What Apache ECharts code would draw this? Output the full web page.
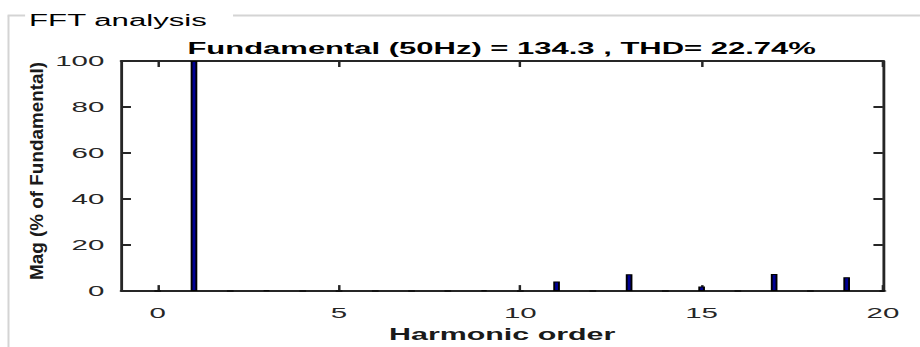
<!DOCTYPE html>
<html>
<head>
<meta charset="utf-8">
<script src="https://cdn.jsdelivr.net/npm/echarts@6/dist/echarts.min.js"></script>
<style>
html,body{margin:0;padding:0;background:#fff;overflow:hidden;}
#wrap{position:absolute;left:0;top:0;width:920px;height:347px;overflow:hidden;}
#chart{position:absolute;left:0;top:0;width:484px;height:347px;transform:scaleX(1.9008);transform-origin:0 0;}
</style>
</head>
<body>
<div id="wrap"><div id="chart"></div></div>
<script>
// ---- data ----
const harmonicOrder = [0,1,2,3,4,5,6,7,8,9,10,11,12,13,14,15,16,17,18,19,20];
const magPercent    = [0,100,0,0.2,0,0,0,0,0,0.3,0,4.2,0,7.3,0,2.0,0,7.4,0,6.0,0];
const xTickValues = [0,5,10,15,20];
const panelTitle = 'FFT analysis';
const chartTitle = 'Fundamental (50Hz) = 134.3 , THD= 22.74%';
const xName = 'Harmonic order';
const yName = 'Mag (% of Fundamental)';

const FONT = 'Liberation Sans, Arial, Helvetica, sans-serif';
const AX = '#262626';

const chart = echarts.init(document.getElementById('chart'), null, {renderer: 'svg'});

const xCommon = {
  type: 'value', min: -1, max: 20, interval: 1,
  splitLine: {show: false},
  axisLine: {show: true, onZero: false, lineStyle: {color: AX, width: 2}},
  axisTick: {show: true, inside: true, length: 6, customValues: xTickValues, lineStyle: {color: AX, width: 1.3}}
};
const yCommon = {
  type: 'value', min: 0, max: 100, interval: 20,
  splitLine: {show: false},
  axisLine: {show: true, onZero: false, lineStyle: {color: AX, width: 1.5}},
  axisTick: {show: true, inside: true, length: 5, lineStyle: {color: AX, width: 2}}
};

chart.setOption({
  animation: false,
  grid: {left: 63.9, right: 19.5, top: 61, bottom: 55, containLabel: false},
  xAxis: [
    Object.assign({}, xCommon, {
      position: 'bottom',
      axisLabel: {show: true, customValues: xTickValues, fontSize: 15.5, color: AX, fontFamily: FONT, margin: 14},
      name: xName, nameLocation: 'middle', nameGap: 31,
      nameTextStyle: {fontSize: 16, fontWeight: 'bold', color: '#1a1a1a', fontFamily: FONT}
    }),
    Object.assign({}, xCommon, {position: 'top', axisLabel: {show: false}})
  ],
  yAxis: [
    Object.assign({}, yCommon, {
      position: 'left',
      axisLabel: {show: true, fontSize: 15.5, color: AX, fontFamily: FONT, margin: 9}
    }),
    Object.assign({}, yCommon, {position: 'right', axisLabel: {show: false}})
  ],
  series: [{
    type: 'bar',
    xAxisIndex: 0, yAxisIndex: 0,
    data: harmonicOrder.map((h, i) => [h, magPercent[i]]),
    barWidth: 3.5,
    itemStyle: {color: '#000094', borderColor: '#000', borderWidth: 1.0}
  }],
  graphic: [
    {type: 'line', shape: {x1: 4.47, y1: 15.5, x2: 4.47, y2: 347}, style: {stroke: '#d4d4d4', lineWidth: 1.05}, silent: true},
    {type: 'line', shape: {x1: 4.0, y1: 15.5, x2: 13.2, y2: 15.5}, style: {stroke: '#d4d4d4', lineWidth: 2}, silent: true},
    {type: 'line', shape: {x1: 122.6, y1: 15.5, x2: 484, y2: 15.5}, style: {stroke: '#d4d4d4', lineWidth: 2}, silent: true},
    {type: 'text', x: 15.3, y: 20, style: {text: panelTitle, font: '16.4px ' + FONT, fill: '#000', textAlign: 'left', textVerticalAlign: 'middle'}},
    {type: 'text', x: 263.9, y: 48.3, style: {text: chartTitle, font: 'bold 16.3px ' + FONT, fill: '#000', textAlign: 'center', textVerticalAlign: 'middle'}},
    {type: 'text', x: 19.2, y: 171, rotation: Math.PI / 2, scaleX: 1.18, scaleY: 0.63,
     style: {text: yName, font: 'bold 16px ' + FONT, fill: '#1a1a1a', textAlign: 'center', textVerticalAlign: 'middle'}}
  ]
});
</script>
</body>
</html>
